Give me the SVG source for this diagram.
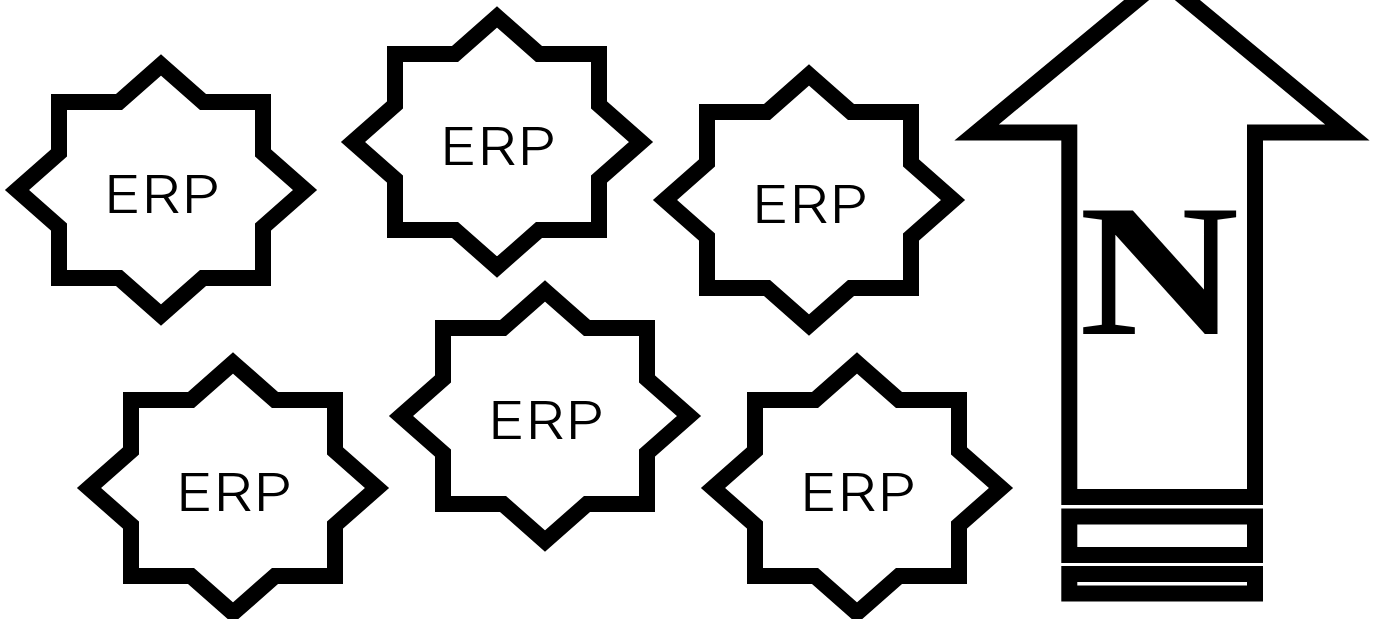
<svg xmlns="http://www.w3.org/2000/svg" width="1380" height="619" viewBox="0 0 1380 619">
<style>
.s{fill:#fff;stroke:#000;stroke-width:16;stroke-miterlimit:10}
.t{font-family:Inter,"Liberation Sans",sans-serif;font-weight:300;font-size:52px;fill:#000}
.n{font-family:"Liberation Serif",serif;font-weight:700;font-size:188px;fill:#000}
</style>
<defs><path id="star" d="M0-125 42-88H102V-37L144 0 102 37V88H42L0 125-42 88H-102V37L-144 0-102-37V-88H-42Z"/></defs>
<rect width="1380" height="619" fill="#fff"/>
<g id="erp1"><use href="#star" class="s" x="161" y="190"/><text class="t" x="103.500" y="212.500" textLength="117" lengthAdjust="spacingAndGlyphs">ERP</text></g>
<g id="erp2"><use href="#star" class="s" x="497" y="142"/><text class="t" x="439.500" y="164.500" textLength="117" lengthAdjust="spacingAndGlyphs">ERP</text></g>
<g id="erp3"><use href="#star" class="s" x="809" y="200"/><text class="t" x="751.500" y="222.500" textLength="117" lengthAdjust="spacingAndGlyphs">ERP</text></g>
<g id="erp4"><use href="#star" class="s" x="233" y="488"/><text class="t" x="175.500" y="510.500" textLength="117" lengthAdjust="spacingAndGlyphs">ERP</text></g>
<g id="erp5"><use href="#star" class="s" x="545" y="416"/><text class="t" x="487.500" y="438.500" textLength="117" lengthAdjust="spacingAndGlyphs">ERP</text></g>
<g id="erp6"><use href="#star" class="s" x="857" y="488"/><text class="t" x="799.500" y="510.500" textLength="117" lengthAdjust="spacingAndGlyphs">ERP</text></g>
<g id="north">
<path class="s" d="M1162-21 1347.400 132.500H1255V497H1069.300V132.500H976.600Z"/>
<rect class="s" x="1069.300" y="516.500" width="185.700" height="38.500"/>
<rect class="s" x="1069.300" y="574" width="185.700" height="19.500"/>
<text class="n" x="1079" y="333.500" textLength="160" lengthAdjust="spacingAndGlyphs">N</text>
</g>
<g id="connectors"/>
</svg>
